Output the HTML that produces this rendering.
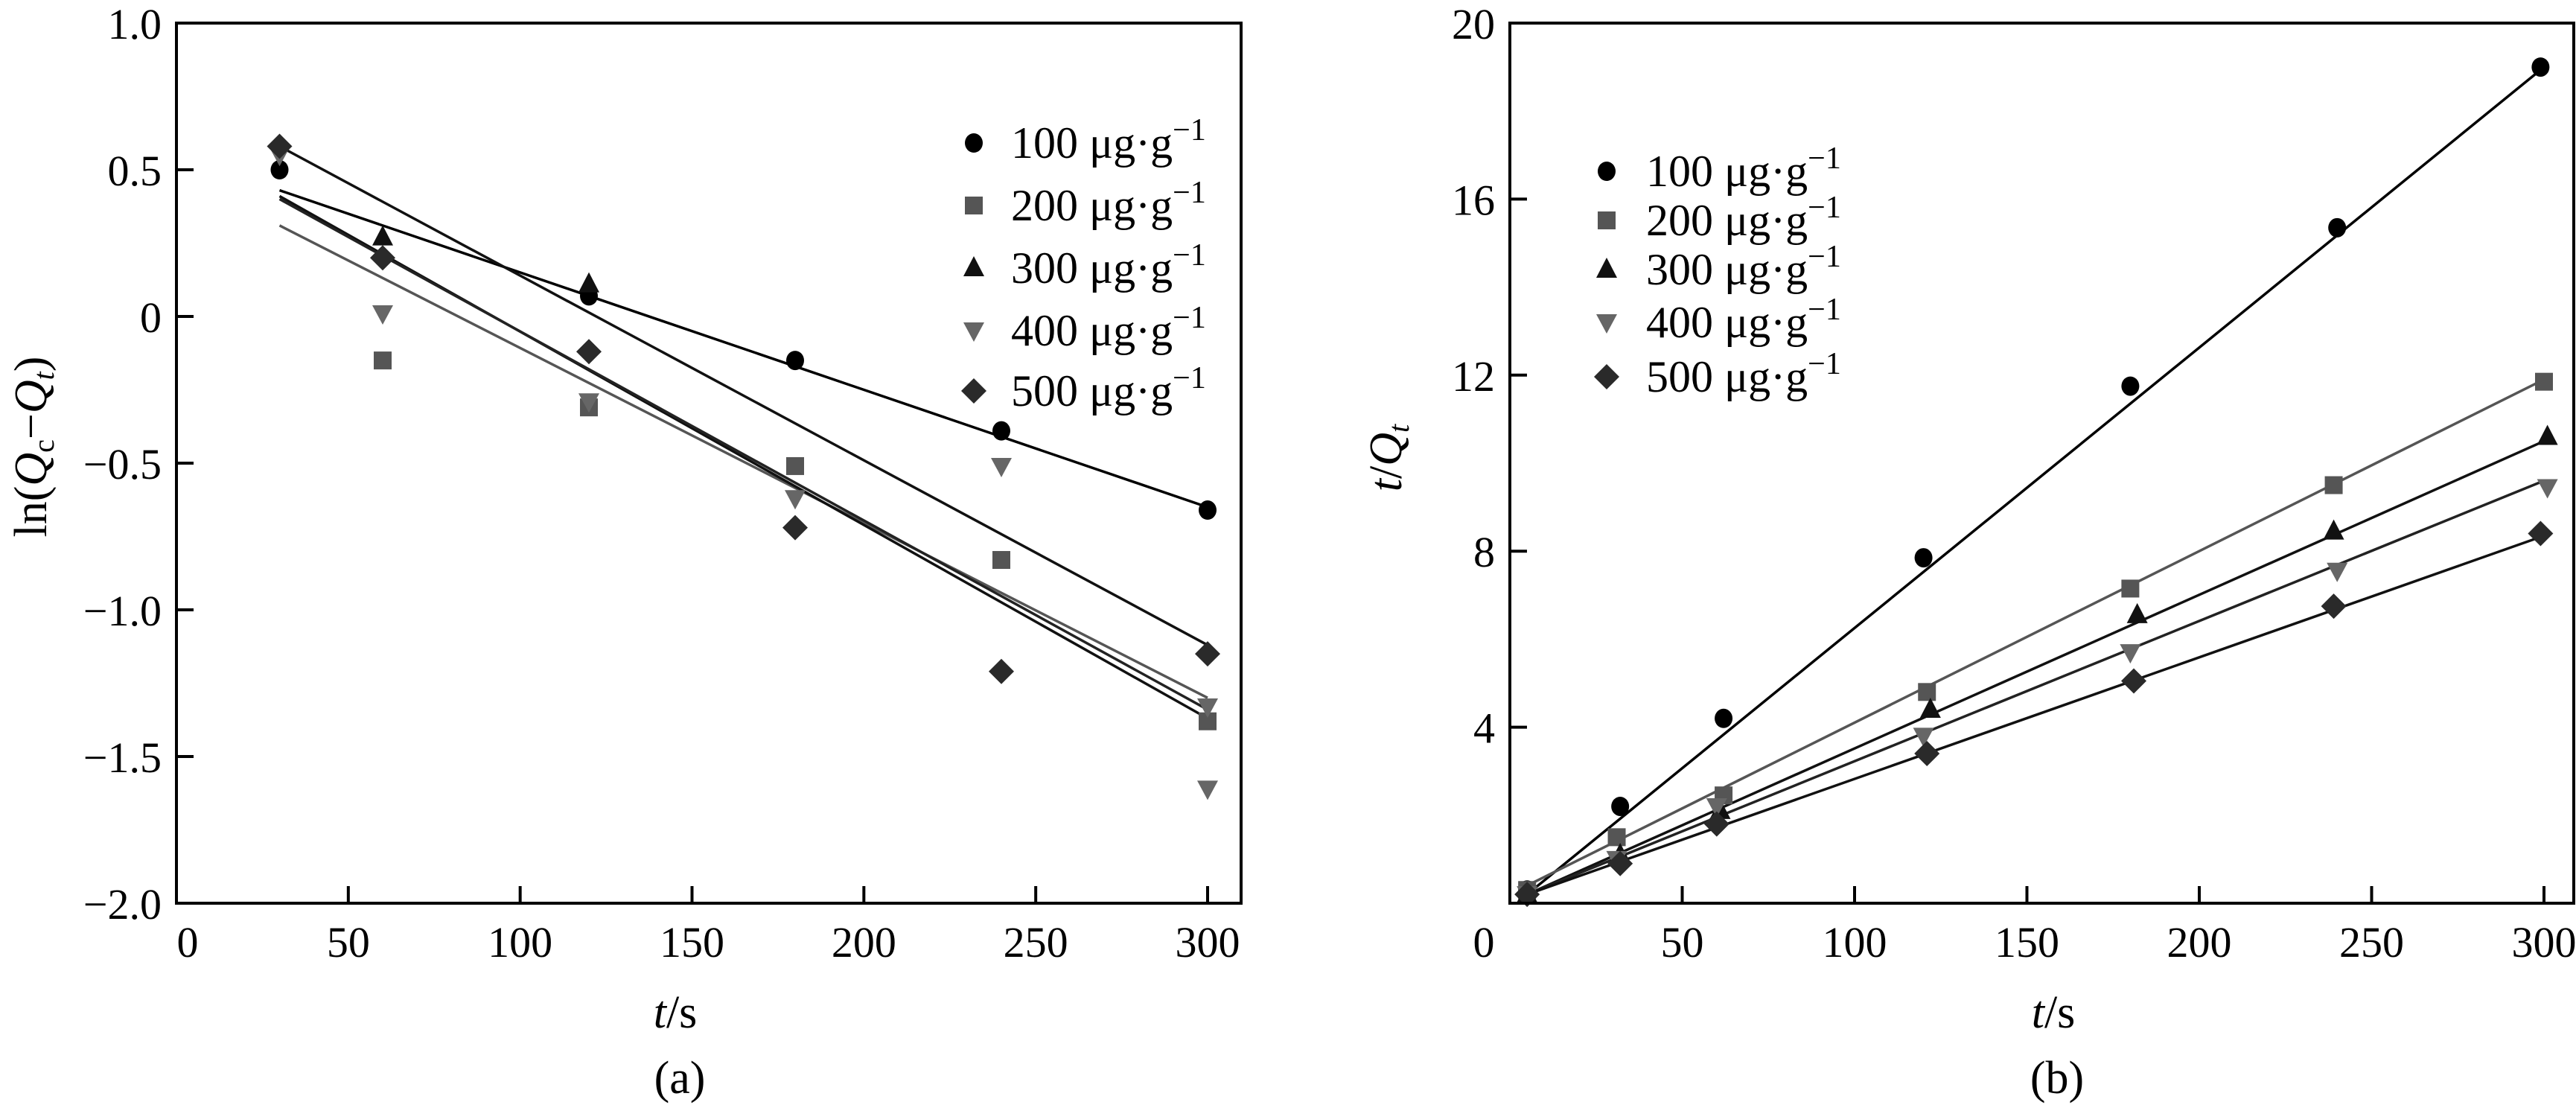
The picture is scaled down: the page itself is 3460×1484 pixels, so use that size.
<!DOCTYPE html>
<html><head><meta charset="utf-8">
<style>
html,body{margin:0;padding:0;background:#fff;}
svg{display:block;}
svg text, svg tspan{font-family:"Liberation Serif","DejaVu Serif",serif;}
</style></head>
<body>
<svg id="fig" width="3460" height="1484" viewBox="0 0 3460 1484" xmlns="http://www.w3.org/2000/svg" font-family="Liberation Serif, serif"></svg>
<script>
// ---- Panel (a) data ----
const seriesNames = ["100 μg·g⁻¹","200 μg·g⁻¹","300 μg·g⁻¹","400 μg·g⁻¹","500 μg·g⁻¹"];
const aX100 = [30,120,180,240,300];           const aY100 = [0.50,0.07,-0.15,-0.39,-0.66];
const aX200 = [60,120,180,240,300];           const aY200 = [-0.15,-0.31,-0.51,-0.83,-1.38];
const aX300 = [60,120];                       const aY300 = [0.27,0.11];
const aX400 = [30,60,120,180,240,300,300];    const aY400 = [0.55,0.01,-0.29,-0.62,-0.51,-1.33,-1.61];
const aX500 = [30,60,120,180,240,300];        const aY500 = [0.58,0.20,-0.12,-0.72,-1.21,-1.15];
const aFitStart = [0.43,0.31,0.41,0.40,0.58]; // value at t=30
const aFitEnd   = [-0.65,-1.30,-1.37,-1.34,-1.12]; // value at t=300
const aXTicks = [0,50,100,150,200,250,300];
const aYTicks = [1.0,0.5,0,-0.5,-1.0,-1.5,-2.0];
const aYTickLabels = ["1.0","0.5","0","−0.5","−1.0","−1.5","−2.0"];
// ---- Panel (b) data ----
const bX100 = [5,32,62,120,180,240,299];  const bY100 = [0.3,2.2,4.2,7.85,11.75,15.35,19.0];
const bX200 = [5,31,62,121,180,239,300];  const bY200 = [0.3,1.5,2.45,4.8,7.15,9.5,11.85];
const bX300 = [5,32,61,122,182,239,301];  const bY300 = [0.2,1.1,2.1,4.4,6.55,8.45,10.6];
const bX400 = [5,31,60,120,180,240,301];  const bY400 = [0.2,1.0,2.2,3.8,5.7,7.55,9.45];
const bX500 = [5,32,60,121,181,239,299];  const bY500 = [0.2,0.9,1.8,3.4,5.05,6.75,8.4];
const bFitStart = [0.2,0.4,0.2,0.2,0.2]; // value at t=5
const bFitEnd   = [19.0,11.9,10.5,9.6,8.35]; // value at t=300
const bXTicks = [0,50,100,150,200,250,300];
const bYTicks = [4,8,12,16,20];

const NS="http://www.w3.org/2000/svg";
const svg=document.getElementById('fig');
function mk(tag,attrs,parent){const e=document.createElementNS(NS,tag);for(const k in attrs)e.setAttribute(k,attrs[k]);(parent||svg).appendChild(e);return e;}
const FF='Liberation Serif, DejaVu Serif, serif';

const markerFill=["#000","#555","#111","#666","#2a2a2a"];
const lineColor=["#000","#555","#111","#222","#111"];
function marker(type,cx,cy,g){
  let e;
  if(type===0){e=mk('ellipse',{cx:cx,cy:cy,rx:12,ry:13,fill:markerFill[0]},g);}
  else if(type===1){e=mk('rect',{x:cx-12,y:cy-12,width:24,height:24,fill:markerFill[1]},g);}
  else if(type===2){e=mk('polygon',{points:`${cx},${cy-16} ${cx-14},${cy+11} ${cx+14},${cy+11}`,fill:markerFill[2]},g);}
  else if(type===3){e=mk('polygon',{points:`${cx},${cy+15} ${cx-14},${cy-11} ${cx+14},${cy-11}`,fill:markerFill[3]},g);}
  else {e=mk('polygon',{points:`${cx},${cy-17} ${cx+17},${cy} ${cx},${cy+17} ${cx-17},${cy}`,fill:markerFill[4]},g);}
  return e;
}
function text(str,x,y,opts,parent){
  const t=mk('text',Object.assign({x:x,y:y,'font-size':58,fill:'#000','font-family':FF},opts||{}),parent);
  t.textContent=str;return t;
}

function panel(cfg){
  const g=mk('g',{});
  
  
  const sx=v=>cfg.x0+(v-cfg.xmin)*(cfg.x1-cfg.x0)/(cfg.xmax-cfg.xmin);
  const sy=v=>cfg.y0+(v-cfg.ymin)*(cfg.y1-cfg.y0)/(cfg.ymax-cfg.ymin);
  for(let i=0;i<5;i++){
    const l=mk('line',{x1:sx(cfg.fitT0),y1:sy(cfg.fitS[i]),x2:sx(cfg.fitT1),y2:sy(cfg.fitE[i]),stroke:lineColor[i],'stroke-width':3.5},g);
    
    
  }
  for(let i=0;i<5;i++){
    const xs=cfg.xs[i],ys=cfg.ys[i];
    for(let j=0;j<xs.length;j++){
      const m=marker(i,sx(xs[j]),sy(ys[j]),g);
      
      
    }
  }
  const fr=mk('rect',{x:cfg.px0,y:cfg.py0,width:cfg.px1-cfg.px0,height:cfg.py1-cfg.py0,fill:'none',stroke:'#000','stroke-width':4},g);
  
  
  cfg.xticks.forEach((v,k)=>{
    const x=sx(v);
    if(v!==cfg.xticks[0]){const t=mk('line',{x1:x,y1:cfg.py1,x2:x,y2:cfg.py1-23,stroke:'#000','stroke-width':4},g);
      }
    const lx=(v===0&&cfg.zeroX!==undefined)?cfg.zeroX:x;
    const lb=text(String(v),lx,1285,{'text-anchor':'middle'},g);
    
    
  });
  cfg.yticks.forEach((v,k)=>{
    const y=sy(v);
    if(y>cfg.py0+2&&y<cfg.py1-2){const t=mk('line',{x1:cfg.px0,y1:y,x2:cfg.px0+23,y2:y,stroke:'#000','stroke-width':4},g);
      }
    const lb=text(cfg.ylabels[k],cfg.px0-20,y+21,{'text-anchor':'end'},g);
    
    
  });
  for(let i=0;i<5;i++){
    const ly=cfg.legY[i];
    const m=marker(i,cfg.legMX,ly,g);
    
    
    const t=mk('text',{x:cfg.legTX,y:ly+20,'font-size':60,fill:'#000','font-family':FF},g);
    t.innerHTML=(i+1)+'00 μg·g<tspan dy="-24" font-size="42">−1</tspan>';
    
    
  }
  return g;
}

panel({name:'panel-a',x0:237,x1:1622,xmin:0,xmax:300,y0:31,y1:1213,ymin:1.0,ymax:-2.0,
  px0:237,px1:1667,py0:31,py1:1213,
  xs:[aX100,aX200,aX300,aX400,aX500],ys:[aY100,aY200,aY300,aY400,aY500],
  fitT0:30,fitT1:300,fitS:aFitStart,fitE:aFitEnd,
  xticks:aXTicks,yticks:aYTicks,ylabels:aYTickLabels,zeroX:252,
  legMX:1308,legTX:1358,legY:[192,276,360,444,525]});

panel({name:'panel-b',x0:2028,x1:3417,xmin:0,xmax:300,y0:1213,y1:31,ymin:0,ymax:20,
  px0:2028,px1:3457,py0:31,py1:1213,
  xs:[bX100,bX200,bX300,bX400,bX500],ys:[bY100,bY200,bY300,bY400,bY500],
  fitT0:5,fitT1:300,fitS:bFitStart,fitE:bFitEnd,
  xticks:bXTicks,yticks:bYTicks,ylabels:bYTicks.map(String),zeroX:1993,
  legMX:2158,legTX:2211,legY:[230,296,362,433,506]});

let t;
t=mk('text',{x:0,y:0,'font-size':62,'text-anchor':'middle','font-family':FF,transform:'translate(62,600) rotate(-90)'});
t.innerHTML='ln(<tspan font-style="italic">Q</tspan><tspan font-size="40" dy="10">c</tspan><tspan dy="-10">−</tspan><tspan font-style="italic">Q</tspan><tspan font-size="40" font-style="italic" dy="10">t</tspan><tspan dy="-10">)</tspan>';


t=mk('text',{x:0,y:0,'font-size':62,'text-anchor':'middle','font-family':FF,transform:'translate(1882,615) rotate(-90)'});
t.innerHTML='<tspan font-style="italic">t</tspan>/<tspan font-style="italic">Q</tspan><tspan font-size="40" font-style="italic" dy="10">t</tspan>';


t=mk('text',{x:907,y:1380,'font-size':62,'text-anchor':'middle','font-family':FF});
t.innerHTML='<tspan font-style="italic">t</tspan>/s';


t=mk('text',{x:2758,y:1380,'font-size':62,'text-anchor':'middle','font-family':FF});
t.innerHTML='<tspan font-style="italic">t</tspan>/s';


t=mk('text',{x:913,y:1468,'font-size':62,'text-anchor':'middle','font-family':FF});
t.textContent='(a)';


t=mk('text',{x:2763,y:1468,'font-size':62,'text-anchor':'middle','font-family':FF});
t.textContent='(b)';


</script>
</body></html>
